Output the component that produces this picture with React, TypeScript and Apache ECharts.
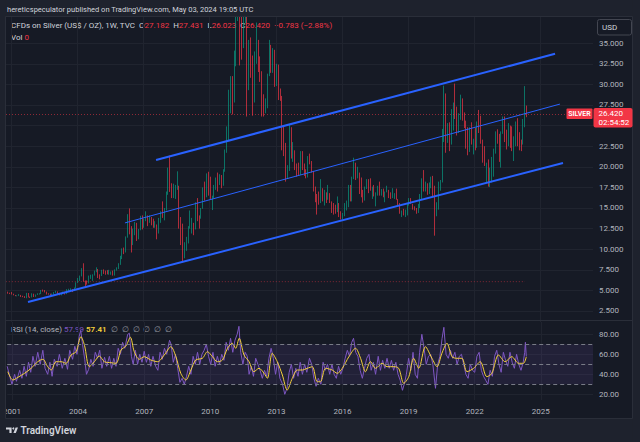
import React, { useEffect, useRef } from 'react';
import * as echarts from 'echarts';

// ---------- data ----------
const FIRST_YEAR = 2000;
const FIRST_MONTH = 10; // November 2000 (0-based month)
const firstOpen = 4.78;

const closes = [
  4.70, 4.60,
  4.55, 4.42, 4.33, 4.37, 4.42, 4.25, 4.24, 4.17, 4.65, 4.20, 4.15, 4.60,
  4.25, 4.50, 4.55, 4.60, 4.98, 4.90, 4.80, 4.58, 4.55, 4.42, 4.55, 4.75,
  4.85, 4.62, 4.45, 4.58, 4.62, 4.57, 5.05, 5.15, 5.15, 5.05, 5.30, 5.95,
  6.35, 6.75, 7.55, 6.10, 6.05, 5.85, 6.55, 6.80, 6.90, 7.25, 7.55, 6.82,
  6.75, 7.45, 7.15, 7.10, 7.05, 7.15, 7.15, 6.88, 7.50, 7.70, 8.25, 8.85,
  9.90, 9.70, 11.50, 13.40, 12.30, 10.80, 12.25, 12.85, 11.55, 12.30, 13.95, 12.90,
  13.45, 14.10, 13.35, 13.40, 13.30, 12.70, 12.95, 12.00, 13.65, 14.40, 14.35, 14.80,
  16.80, 19.75, 17.30, 16.45, 16.80, 17.55, 17.60, 13.55, 12.95, 9.75, 10.05, 11.30,
  12.55, 13.00, 13.10, 12.50, 15.60, 13.95, 13.90, 14.95, 16.60, 16.40, 18.60, 16.90,
  16.20, 16.30, 17.50, 18.65, 18.40, 18.65, 18.00, 19.40, 21.90, 24.60, 28.20, 30.60,
  28.30, 33.90, 37.85, 48.60, 38.30, 34.80, 40.00, 41.60, 30.40, 34.60, 32.70, 28.20,
  33.10, 34.50, 32.40, 31.30, 28.20, 27.40, 27.80, 31.25, 34.60, 32.30, 34.10, 29.90,
  31.80, 28.50, 28.30, 24.00, 22.30, 19.70, 19.70, 23.60, 21.70, 21.90, 19.90, 19.50,
  19.20, 21.30, 19.80, 19.10, 19.00, 21.00, 20.40, 19.45, 17.00, 16.20, 15.90, 15.60,
  17.20, 16.60, 16.60, 16.30, 16.75, 15.60, 14.70, 14.60, 14.55, 15.55, 14.10, 13.85,
  14.10, 15.00, 15.50, 17.80, 16.00, 18.60, 20.40, 18.70, 19.20, 17.70, 16.50, 16.00,
  17.40, 18.35, 18.20, 17.20, 17.40, 16.55, 16.70, 17.50, 16.60, 16.70, 16.40, 16.90,
  17.30, 16.45, 16.30, 16.30, 16.40, 16.10, 15.50, 14.50, 14.65, 14.20, 14.20, 15.50,
  16.05, 15.60, 15.10, 14.90, 14.55, 15.30, 16.40, 18.40, 17.00, 18.10, 16.95, 17.80,
  18.00, 16.60, 14.00, 15.00, 18.20, 18.20, 24.40, 28.00, 23.50, 23.90, 22.70, 26.40,
  26.90, 26.70, 24.50, 25.90, 27.50, 26.10, 25.50, 23.90, 22.00, 23.95, 23.00, 23.30,
  22.40, 25.20, 25.00, 23.00, 21.60, 20.30, 20.30, 17.80, 19.00, 19.10, 21.70, 24.00,
  23.80, 20.90, 24.10, 25.00, 23.60, 22.80, 24.80, 24.20, 22.30, 22.80, 25.30, 23.80,
  22.90, 22.70, 24.90, 26.60, 26.42,
];
const highs = [
  4.85, 4.72,
  4.80, 4.60, 4.45, 4.40, 4.55, 4.45, 4.35, 4.30, 4.70, 4.68, 4.25, 4.65,
  4.60, 4.50, 4.65, 4.65, 5.05, 5.10, 5.05, 4.85, 4.65, 4.60, 4.62, 4.80,
  4.95, 4.88, 4.70, 4.70, 4.85, 4.70, 5.15, 5.20, 5.25, 5.15, 5.35, 5.98,
  6.50, 6.80, 7.70, 8.29, 6.20, 6.20, 6.80, 6.90, 6.95, 7.40, 7.80, 7.60,
  6.95, 7.50, 7.55, 7.40, 7.45, 7.50, 7.30, 7.40, 7.55, 7.80, 8.30, 9.20,
  10.10, 10.20, 11.55, 14.25, 14.95, 12.80, 12.50, 13.30, 13.20, 12.45, 14.05, 14.10,
  13.70, 14.60, 14.10, 14.10, 13.90, 13.70, 13.40, 13.00, 13.80, 14.60, 15.80, 15.00,
  17.00, 19.90, 21.35, 18.00, 17.95, 17.80, 19.45, 17.70, 13.90, 13.10, 10.85, 11.50,
  12.80, 14.70, 13.80, 13.20, 15.70, 16.20, 14.10, 15.00, 17.50, 18.20, 19.20, 19.40,
  18.80, 16.50, 17.80, 18.70, 19.30, 19.10, 19.00, 19.70, 22.10, 24.90, 29.35, 31.00,
  31.00, 34.10, 38.20, 49.80, 48.70, 39.40, 40.90, 44.30, 43.80, 35.40, 35.70, 33.50,
  34.00, 37.50, 35.40, 33.40, 31.60, 28.80, 28.30, 31.30, 35.40, 34.80, 34.40, 34.20,
  32.50, 32.40, 29.50, 28.60, 24.90, 22.90, 20.20, 25.10, 24.80, 23.00, 22.00, 20.40,
  20.50, 21.90, 21.90, 20.40, 19.70, 21.30, 21.60, 20.70, 19.50, 17.60, 16.70, 17.00,
  18.50, 17.40, 17.20, 16.90, 17.80, 16.80, 15.80, 15.60, 15.40, 16.40, 15.60, 14.60,
  14.40, 15.60, 15.90, 17.80, 17.80, 18.80, 21.10, 20.50, 20.00, 19.30, 18.70, 17.20,
  17.60, 18.50, 18.50, 18.60, 17.60, 17.80, 16.90, 17.70, 18.20, 17.30, 17.35, 17.00,
  17.70, 17.20, 16.90, 17.40, 16.80, 17.35, 16.10, 15.60, 14.70, 14.90, 14.80, 15.60,
  16.20, 16.20, 15.50, 15.20, 15.00, 15.50, 16.70, 18.60, 19.60, 18.20, 18.00, 18.10,
  18.80, 18.90, 17.70, 15.70, 18.20, 18.40, 24.60, 29.85, 28.90, 25.30, 25.40, 27.00,
  27.80, 30.10, 27.30, 26.50, 28.75, 28.30, 26.60, 25.60, 24.80, 24.80, 25.40, 23.40,
  24.70, 25.50, 26.90, 26.20, 23.30, 22.50, 20.50, 20.90, 19.90, 21.20, 22.20, 24.30,
  24.55, 24.00, 24.30, 26.10, 26.10, 24.50, 25.30, 25.00, 24.90, 23.70, 25.50, 25.90,
  24.20, 23.30, 25.80, 29.79, 27.43,
];
const lows = [
  4.60, 4.55,
  4.50, 4.40, 4.30, 4.28, 4.33, 4.20, 4.18, 4.08, 4.05, 4.15, 4.08, 4.15,
  4.20, 4.22, 4.45, 4.50, 4.55, 4.85, 4.75, 4.50, 4.48, 4.40, 4.40, 4.50,
  4.70, 4.55, 4.40, 4.40, 4.55, 4.50, 4.55, 4.90, 4.95, 4.80, 4.95, 5.25,
  5.90, 6.15, 6.70, 6.05, 5.50, 5.70, 5.85, 6.40, 6.15, 6.80, 7.20, 6.50,
  6.35, 6.75, 7.00, 6.90, 6.95, 6.90, 6.90, 6.80, 6.80, 7.40, 7.60, 8.10,
  8.80, 9.40, 9.60, 11.40, 11.80, 9.60, 10.50, 11.70, 11.00, 11.20, 12.30, 12.40,
  12.60, 13.40, 12.80, 13.20, 12.90, 12.60, 12.60, 11.20, 11.90, 13.20, 13.80, 13.50,
  14.70, 16.60, 16.95, 16.20, 16.20, 16.10, 17.20, 12.50, 10.50, 8.40, 8.90, 9.80,
  10.70, 12.50, 11.90, 11.70, 12.40, 13.40, 12.50, 13.70, 14.90, 15.90, 16.30, 16.50,
  16.10, 14.75, 16.20, 17.20, 17.00, 17.80, 17.40, 17.70, 19.40, 21.70, 23.20, 26.50,
  26.35, 27.80, 32.20, 37.70, 32.30, 33.00, 34.40, 37.40, 26.10, 29.30, 30.80, 26.20,
  27.80, 32.50, 31.50, 30.30, 26.10, 26.10, 26.50, 27.10, 31.00, 31.40, 31.40, 29.70,
  29.80, 28.10, 28.00, 22.00, 21.30, 18.20, 18.60, 19.50, 21.00, 20.60, 19.60, 18.80,
  19.00, 19.00, 19.60, 18.90, 18.60, 18.70, 20.30, 19.30, 17.00, 15.70, 14.20, 15.40,
  15.60, 15.80, 15.30, 15.60, 16.00, 15.60, 14.40, 14.20, 14.30, 14.50, 13.90, 13.60,
  13.60, 14.00, 14.70, 15.10, 15.80, 15.80, 18.50, 18.40, 18.60, 16.70, 16.30, 15.65,
  15.90, 17.30, 16.80, 17.10, 16.10, 16.40, 15.20, 16.50, 16.50, 16.50, 16.30, 15.70,
  16.90, 16.20, 16.10, 16.20, 16.10, 16.00, 15.30, 14.30, 13.90, 14.10, 13.90, 14.10,
  15.30, 15.50, 14.80, 14.70, 14.30, 14.40, 15.00, 16.10, 17.00, 17.00, 16.60, 16.70,
  17.40, 16.40, 11.64, 14.00, 14.80, 17.10, 18.10, 23.00, 21.70, 22.90, 21.90, 22.70,
  24.40, 25.80, 23.80, 24.10, 25.70, 25.60, 24.70, 22.20, 21.40, 21.80, 22.70, 21.50,
  22.00, 22.30, 24.10, 22.80, 20.50, 20.10, 18.10, 17.60, 17.55, 18.10, 18.80, 21.60,
  22.80, 20.60, 19.90, 24.00, 23.00, 22.10, 22.50, 22.30, 21.90, 20.70, 22.50, 22.50,
  22.00, 21.90, 22.70, 24.80, 26.02,
];

const lastPrice = 26.42;
const supportLevel = 6.06;
const supportEnd = 2024.29;

// channel lines [year, price]
const upperLine = [[2007.58, 20.83], [2025.65, 33.71]];
const middleLine = [[2006.17, 13.19], [2025.87, 27.61]];
const lowerLine = [[2001.78, 3.59], [2026.01, 20.46]];

// RSI (purple)
const rsiYears = [
  2000.78, 2000.90, 2001.00, 2001.12, 2001.20, 2001.35, 2001.45, 2001.55, 2001.65, 2001.75, 2001.85, 2001.95,
  2002.05, 2002.17, 2002.28, 2002.40, 2002.50, 2002.62, 2002.72, 2002.82, 2002.92, 2003.05, 2003.15, 2003.28,
  2003.40, 2003.52, 2003.62, 2003.75, 2003.85, 2003.95, 2004.05, 2004.12, 2004.20, 2004.30, 2004.38, 2004.48,
  2004.58, 2004.68, 2004.78, 2004.88, 2004.98, 2005.08, 2005.20, 2005.30, 2005.42, 2005.52, 2005.62, 2005.72,
  2005.82, 2005.92, 2006.02, 2006.12, 2006.25, 2006.33, 2006.42, 2006.50, 2006.60, 2006.70, 2006.80, 2006.90,
  2007.00, 2007.10, 2007.20, 2007.30, 2007.40, 2007.52, 2007.62, 2007.72, 2007.82, 2007.92, 2008.02, 2008.15,
  2008.22, 2008.32, 2008.42, 2008.52, 2008.62, 2008.72, 2008.82, 2008.92, 2009.02, 2009.12, 2009.22, 2009.32,
  2009.42, 2009.52, 2009.62, 2009.72, 2009.82, 2009.92, 2010.02, 2010.12, 2010.22, 2010.32, 2010.42, 2010.52,
  2010.62, 2010.72, 2010.82, 2010.92, 2011.02, 2011.12, 2011.22, 2011.30, 2011.38, 2011.48, 2011.58, 2011.68,
  2011.76, 2011.86, 2011.96, 2012.06, 2012.16, 2012.26, 2012.36, 2012.46, 2012.56, 2012.66, 2012.76, 2012.86,
  2012.96, 2013.06, 2013.16, 2013.28, 2013.38, 2013.48, 2013.58, 2013.68, 2013.78, 2013.88, 2013.98, 2014.08,
  2014.18, 2014.28, 2014.38, 2014.50, 2014.60, 2014.70, 2014.80, 2014.90, 2015.02, 2015.12, 2015.22, 2015.32,
  2015.42, 2015.52, 2015.62, 2015.72, 2015.82, 2015.92, 2016.02, 2016.12, 2016.22, 2016.32, 2016.42, 2016.50,
  2016.60, 2016.70, 2016.80, 2016.90, 2017.00, 2017.10, 2017.20, 2017.30, 2017.40, 2017.50, 2017.62, 2017.72,
  2017.82, 2017.92, 2018.02, 2018.12, 2018.22, 2018.32, 2018.42, 2018.52, 2018.62, 2018.72, 2018.80, 2018.90,
  2019.00, 2019.10, 2019.20, 2019.30, 2019.40, 2019.50, 2019.60, 2019.70, 2019.80, 2019.90, 2020.00, 2020.10,
  2020.22, 2020.32, 2020.42, 2020.52, 2020.60, 2020.70, 2020.80, 2020.90, 2021.00, 2021.10, 2021.20, 2021.30,
  2021.40, 2021.50, 2021.60, 2021.70, 2021.80, 2021.90, 2022.00, 2022.10, 2022.20, 2022.30, 2022.40, 2022.50,
  2022.60, 2022.70, 2022.80, 2022.90, 2023.00, 2023.10, 2023.20, 2023.30, 2023.40, 2023.50, 2023.60, 2023.70,
  2023.80, 2023.90, 2024.00, 2024.10, 2024.20, 2024.27, 2024.30, 2024.34,
];
const rsiValues = [
  48, 38, 30, 40, 33, 44, 36, 48, 38, 52, 42, 58,
  48, 62, 50, 64, 46, 40, 52, 38, 55, 48, 60, 46,
  56, 45, 64, 55, 68, 60, 78, 84, 70, 55, 40, 45,
  55, 48, 62, 56, 64, 46, 57, 48, 58, 46, 56, 48,
  66, 60, 72, 66, 80, 81, 58, 50, 64, 50, 60, 52,
  63, 52, 60, 48, 58, 48, 44, 62, 55, 66, 60, 74,
  70, 52, 60, 46, 32, 36, 30, 38, 48, 40, 58, 50,
  62, 50, 60, 64, 70, 58, 50, 62, 48, 58, 50, 60,
  54, 72, 64, 76, 62, 74, 80, 88, 62, 50, 62, 58,
  40, 48, 38, 56, 50, 44, 36, 44, 38, 56, 66, 56,
  40, 52, 36, 30, 20, 26, 42, 50, 36, 46, 38, 52,
  40, 50, 42, 56, 50, 36, 28, 36, 30, 52, 44, 50,
  40, 50, 40, 36, 48, 40, 46, 56, 64, 58, 72, 76,
  62, 58, 44, 36, 46, 56, 60, 44, 52, 40, 58, 44,
  54, 46, 56, 46, 54, 44, 52, 40, 34, 24, 30, 40,
  56, 44, 62, 40, 36, 62, 80, 66, 50, 58, 60, 50,
  26, 50, 58, 76, 87, 60, 56, 64, 56, 62, 50, 58,
  60, 50, 40, 36, 50, 44, 42, 58, 62, 44, 38, 34,
  30, 44, 38, 58, 64, 50, 42, 62, 54, 48, 62, 52,
  46, 60, 50, 44, 52, 62, 72, 57.99,
];

// RSI-based moving average (yellow)
const maYears = [
  2000.81, 2001.04, 2001.27, 2001.57, 2001.87, 2002.17, 2002.40, 2002.62, 2002.78, 2003.00, 2003.23, 2003.45,
  2003.68, 2003.91, 2004.13, 2004.29, 2004.51, 2004.74, 2004.96, 2005.19, 2005.49, 2005.72, 2005.95, 2006.17,
  2006.37, 2006.55, 2006.78, 2007.00, 2007.30, 2007.61, 2007.91, 2008.21, 2008.44, 2008.66, 2008.89, 2009.12,
  2009.34, 2009.64, 2009.87, 2010.10, 2010.32, 2010.55, 2010.78, 2011.00, 2011.15, 2011.31, 2011.53, 2011.76,
  2011.98, 2012.21, 2012.44, 2012.59, 2012.81, 2013.04, 2013.27, 2013.49, 2013.72, 2013.95, 2014.17, 2014.40,
  2014.63, 2014.85, 2015.00, 2015.23, 2015.53, 2015.76, 2015.99, 2016.29, 2016.59, 2016.82, 2017.04, 2017.27,
  2017.50, 2017.80, 2018.02, 2018.33, 2018.55, 2018.78, 2019.01, 2019.23, 2019.46, 2019.76, 2020.06, 2020.29,
  2020.51, 2020.74, 2020.97, 2021.19, 2021.42, 2021.65, 2021.95, 2022.25, 2022.55, 2022.78, 2023.08, 2023.38,
  2023.68, 2023.99, 2024.21, 2024.34,
];
const maValues = [
  42.6, 34.3, 37, 41, 46, 52.6, 55, 47.6, 44.3, 52.6, 52.6, 51,
  59.3, 62.6, 77.6, 69, 47.6, 52.6, 58.3, 52.6, 51.6, 51, 64.3, 68.3,
  77, 62.6, 55, 57.6, 54.3, 52.6, 59.3, 67.6, 57.6, 41, 34.3, 44.3,
  54.3, 56, 62.6, 57.6, 52.6, 54.3, 66, 71, 66, 76, 59.3, 52.6,
  42.6, 46, 41, 36, 61, 52.6, 39.3, 24.3, 36, 44.3, 44.3, 46,
  47.6, 32.6, 32.6, 46, 44.3, 41, 46, 57.6, 66, 56, 42.6, 52.6,
  46, 51, 47.6, 47.6, 46, 31, 37.6, 56, 46, 67.6, 56, 47.6,
  61, 71, 57.6, 56, 56, 42.6, 46, 52.6, 37.6, 41, 59.3, 52.6,
  57.6, 51, 51, 57.41,
];

const yearTicks = [2001, 2004, 2007, 2010, 2013, 2016, 2019, 2022, 2025];
const priceTicks = [2.5, 5, 7.5, 10, 12.5, 15, 17.5, 20, 22.5, 25, 27.5, 30, 32.5, 35];
// 25.000 sits behind the last-price label, so it is not printed
const priceLabels = [2.5, 5, 7.5, 10, 12.5, 15, 17.5, 20, 22.5, 27.5, 30, 32.5, 35];
const rsiTicks = [20, 40, 60, 80];

// ---------- styling ----------
const BG_OUT = '#1e222d';
const BG_PANE = '#161a25';
const GRID = '#20242f';
const BORDER = '#2a2e39';
const TXT = '#d1d4dc';
const AXT = '#b2b5be';
const UP = '#089981';
const DOWN = '#f23645';
const BLUE = '#2962ff';
const FONT = 'Roboto';

export default function App() {
  const ref = useRef<HTMLDivElement>(null);

  useEffect(() => {
    document.body.style.margin = '0';
    if (!ref.current) return;
    const chart = echarts.init(ref.current, undefined, { renderer: 'svg' });

    const candles = closes.map((c, i) => {
      const x = FIRST_YEAR + (FIRST_MONTH + i + 0.5) / 12;
      const o = i === 0 ? firstOpen : closes[i - 1];
      return [x, o, c, lows[i], highs[i]];
    });
    const rsiData = rsiYears.map((y, i) => [y, rsiValues[i]]);
    const maData = maYears.map((y, i) => [y, maValues[i]]);
    const firstX = FIRST_YEAR + (FIRST_MONTH + 0.5) / 12 - 0.1;

    const X_MIN = 2000.783;
    const X_MAX = 2027.368;

    const axisLabelBase = { color: AXT, fontSize: 8, fontFamily: FONT };

    const option: any = {
      animation: false,
      backgroundColor: BG_OUT,
      textStyle: { fontFamily: FONT },
      grid: [
        { left: 6, right: 47, top: 16, height: 306 },
        { left: 6, right: 47, top: 322, height: 78 },
      ],
      xAxis: [
        {
          type: 'value', gridIndex: 0, min: X_MIN, max: X_MAX,
          axisLine: { show: false },
          axisTick: { show: false, customValues: yearTicks },
          axisLabel: { show: false, customValues: yearTicks },
          splitLine: { show: true, lineStyle: { color: GRID, width: 1 } },
        },
        {
          type: 'value', gridIndex: 1, min: X_MIN, max: X_MAX,
          axisLine: { show: false },
          axisTick: { show: false, customValues: yearTicks },
          axisLabel: { ...axisLabelBase, customValues: yearTicks, margin: 7, formatter: (v: number) => String(v) },
          splitLine: { show: true, lineStyle: { color: GRID, width: 1 } },
        },
      ],
      yAxis: [
        {
          type: 'value', gridIndex: 0, position: 'right', min: 1.165, max: 38.3,
          axisLine: { show: false },
          axisTick: { show: false, customValues: priceTicks },
          axisLabel: { ...axisLabelBase, customValues: priceLabels, margin: 6, formatter: (v: number) => v.toFixed(3) },
          splitLine: { show: true, lineStyle: { color: GRID, width: 1 } },
        },
        {
          type: 'value', gridIndex: 1, position: 'right', min: 14.3, max: 92.3,
          axisLine: { show: false },
          axisTick: { show: false, customValues: rsiTicks },
          axisLabel: { ...axisLabelBase, customValues: rsiTicks, margin: 6, formatter: (v: number) => v.toFixed(2) },
          splitLine: { show: true, lineStyle: { color: GRID, width: 1 } },
        },
      ],
      series: [
        {
          type: 'line', xAxisIndex: 0, yAxisIndex: 0, z: 1,
          data: [[firstX, supportLevel], [supportEnd, supportLevel]],
          showSymbol: false, silent: true,
          lineStyle: { color: 'rgba(242,54,69,0.5)', width: 1, type: [1, 2] },
        },
        {
          type: 'candlestick', xAxisIndex: 0, yAxisIndex: 0, z: 3,
          data: candles,
          encode: { x: 0, y: [1, 2, 3, 4] },
          barWidth: 1.2,
          itemStyle: { color: UP, color0: DOWN, borderColor: UP, borderColor0: DOWN, borderWidth: 0.7 },
          markLine: {
            silent: true, symbol: ['none', 'none'],
            label: { show: false },
            lineStyle: { color: 'rgba(242,54,69,0.55)', width: 1, type: [1, 2] },
            data: [{ yAxis: lastPrice }],
          },
        },
        {
          type: 'line', xAxisIndex: 0, yAxisIndex: 0, z: 4, data: upperLine,
          showSymbol: false, silent: true, lineStyle: { color: BLUE, width: 2 },
        },
        {
          type: 'line', xAxisIndex: 0, yAxisIndex: 0, z: 4, data: middleLine,
          showSymbol: false, silent: true, lineStyle: { color: BLUE, width: 1 },
        },
        {
          type: 'line', xAxisIndex: 0, yAxisIndex: 0, z: 4, data: lowerLine,
          showSymbol: false, silent: true, lineStyle: { color: BLUE, width: 2 },
        },
        {
          type: 'line', xAxisIndex: 1, yAxisIndex: 1, z: 3, data: rsiData,
          showSymbol: false, silent: true,
          lineStyle: { color: '#7e57c2', width: 1 },
          markArea: {
            silent: true,
            itemStyle: { color: 'rgba(126,87,194,0.12)' },
            data: [[{ yAxis: 30 }, { yAxis: 70 }]],
          },
          markLine: {
            silent: true, symbol: ['none', 'none'],
            label: { show: false },
            lineStyle: { color: '#787b86', width: 1, type: [4, 3] },
            data: [{ yAxis: 70 }, { yAxis: 50 }, { yAxis: 30 }],
          },
        },
        {
          type: 'line', xAxisIndex: 1, yAxisIndex: 1, z: 4, data: maData,
          showSymbol: false, silent: true, smooth: 0.3,
          lineStyle: { color: '#f5d13c', width: 1 },
        },
      ],
      graphic: [
        // pane background
        { type: 'rect', z: -10, silent: true, shape: { x: 5.5, y: 16.5, width: 627, height: 402 }, style: { fill: BG_PANE } },
        // legend texts (under candles)
        {
          type: 'text', z: 0, silent: true, x: 11, y: 25.5,
          style: {
            text: '{a|CFDs on Silver (US$ / OZ), 1W, TVC}  {a|O}{r|27.182}  {a|H}{r|27.431}  {a|L}{r|26.023}  {a|C}{r|26.420}  {r|−0.783 (−2.88%)}',
            verticalAlign: 'middle', textVerticalAlign: 'middle',
            font: `8px ${FONT}`,
            rich: {
              a: { fill: TXT, font: `8px ${FONT}` },
              r: { fill: DOWN, font: `8px ${FONT}` },
            },
          },
        },
        {
          type: 'text', z: 0, silent: true, x: 11, y: 37.5,
          style: {
            text: '{a|Vol} {r|0}', verticalAlign: 'middle', textVerticalAlign: 'middle', font: `8px ${FONT}`,
            rich: { a: { fill: TXT, font: `8px ${FONT}` }, r: { fill: DOWN, font: `8px ${FONT}` } },
          },
        },
        {
          type: 'text', z: 0, silent: true, x: 11, y: 329.5,
          style: {
            text: '{a|RSI (14, close)} {p|57.99} {y|57.41}  {n|∅}  {n|∅}  {n|∅}  {n|∅}  {n|∅}  {n|∅}',
            verticalAlign: 'middle', textVerticalAlign: 'middle', font: `8px ${FONT}`,
            rich: {
              a: { fill: AXT, font: `8px ${FONT}` },
              p: { fill: '#7e57c2', font: `8px ${FONT}` },
              y: { fill: '#f5d13c', font: `600 8px ${FONT}` },
              n: { fill: '#9598a1', font: `8px ${FONT}` },
            },
          },
        },
        // covers (clip overflow of candles / axis labels)
        { type: 'rect', z: 50, silent: true, shape: { x: 0, y: 0, width: 640, height: 16.5 }, style: { fill: BG_OUT } },
        { type: 'rect', z: 50, silent: true, shape: { x: 0, y: 0, width: 5.5, height: 442 }, style: { fill: BG_OUT } },
        { type: 'rect', z: 50, silent: true, shape: { x: 0, y: 418.5, width: 640, height: 24 }, style: { fill: BG_OUT } },
        { type: 'rect', z: 50, silent: true, shape: { x: 632.5, y: 0, width: 8, height: 442 }, style: { fill: BG_OUT } },
        // pane border & separator
        { type: 'rect', z: 51, silent: true, shape: { x: 5.5, y: 16.5, width: 627, height: 402 }, style: { fill: 'none', stroke: BORDER, lineWidth: 1 } },
        { type: 'line', z: 51, silent: true, shape: { x1: 6, y1: 320.5, x2: 632, y2: 320.5 }, style: { stroke: BORDER, lineWidth: 1 } },
        // publisher line
        {
          type: 'text', z: 52, silent: true, x: 7, y: 9,
          style: { text: 'hereticspeculator published on TradingView.com, May 03, 2024 19:05 UTC', fill: TXT, font: `7.5px ${FONT}`, verticalAlign: 'middle', textVerticalAlign: 'middle' },
        },
        // USD box
        { type: 'rect', z: 52, silent: true, shape: { x: 597.5, y: 19.5, width: 34, height: 15.5, r: 2 }, style: { fill: BG_PANE, stroke: '#434651', lineWidth: 1 } },
        { type: 'text', z: 53, silent: true, x: 602, y: 27.5, style: { text: 'USD', fill: TXT, font: `8px ${FONT}`, verticalAlign: 'middle', textVerticalAlign: 'middle' } },
        // SILVER + last price labels
        { type: 'rect', z: 60, silent: true, shape: { x: 566.5, y: 108.5, width: 26, height: 10.5, r: 1 }, style: { fill: DOWN } },
        { type: 'text', z: 61, silent: true, x: 579.5, y: 114, style: { text: 'SILVER', fill: '#ffffff', font: `600 7px ${FONT}`, align: 'center', textAlign: 'center', verticalAlign: 'middle', textVerticalAlign: 'middle' } },
        { type: 'rect', z: 60, silent: true, shape: { x: 593.5, y: 108, width: 39, height: 19.5, r: 2 }, style: { fill: DOWN } },
        { type: 'text', z: 61, silent: true, x: 598.5, y: 113.5, style: { text: '26.420', fill: '#ffffff', font: `8px ${FONT}`, verticalAlign: 'middle', textVerticalAlign: 'middle' } },
        { type: 'text', z: 61, silent: true, x: 598.5, y: 122, style: { text: '02:54:52', fill: '#ffffff', font: `8px ${FONT}`, verticalAlign: 'middle', textVerticalAlign: 'middle' } },
        // TradingView logo
        { type: 'polygon', z: 52, silent: true, shape: { points: [[6, 427.5], [11.6, 427.5], [11.6, 433], [9.4, 433], [9.4, 429.4], [6, 429.4]] }, style: { fill: TXT } },
        { type: 'circle', z: 52, silent: true, shape: { cx: 13.3, cy: 428.5, r: 1 }, style: { fill: TXT } },
        { type: 'polygon', z: 52, silent: true, shape: { points: [[15.6, 427.5], [18, 427.5], [15.8, 433], [13.4, 433]] }, style: { fill: TXT } },
        { type: 'text', z: 52, silent: true, x: 20.5, y: 430.5, style: { text: 'TradingView', fill: TXT, font: `600 10px ${FONT}`, verticalAlign: 'middle', textVerticalAlign: 'middle' } },
      ],
    };

    chart.setOption(option);
    return () => chart.dispose();
  }, []);

  return <div ref={ref} style={{ width: 640, height: 442 }} />;
}
